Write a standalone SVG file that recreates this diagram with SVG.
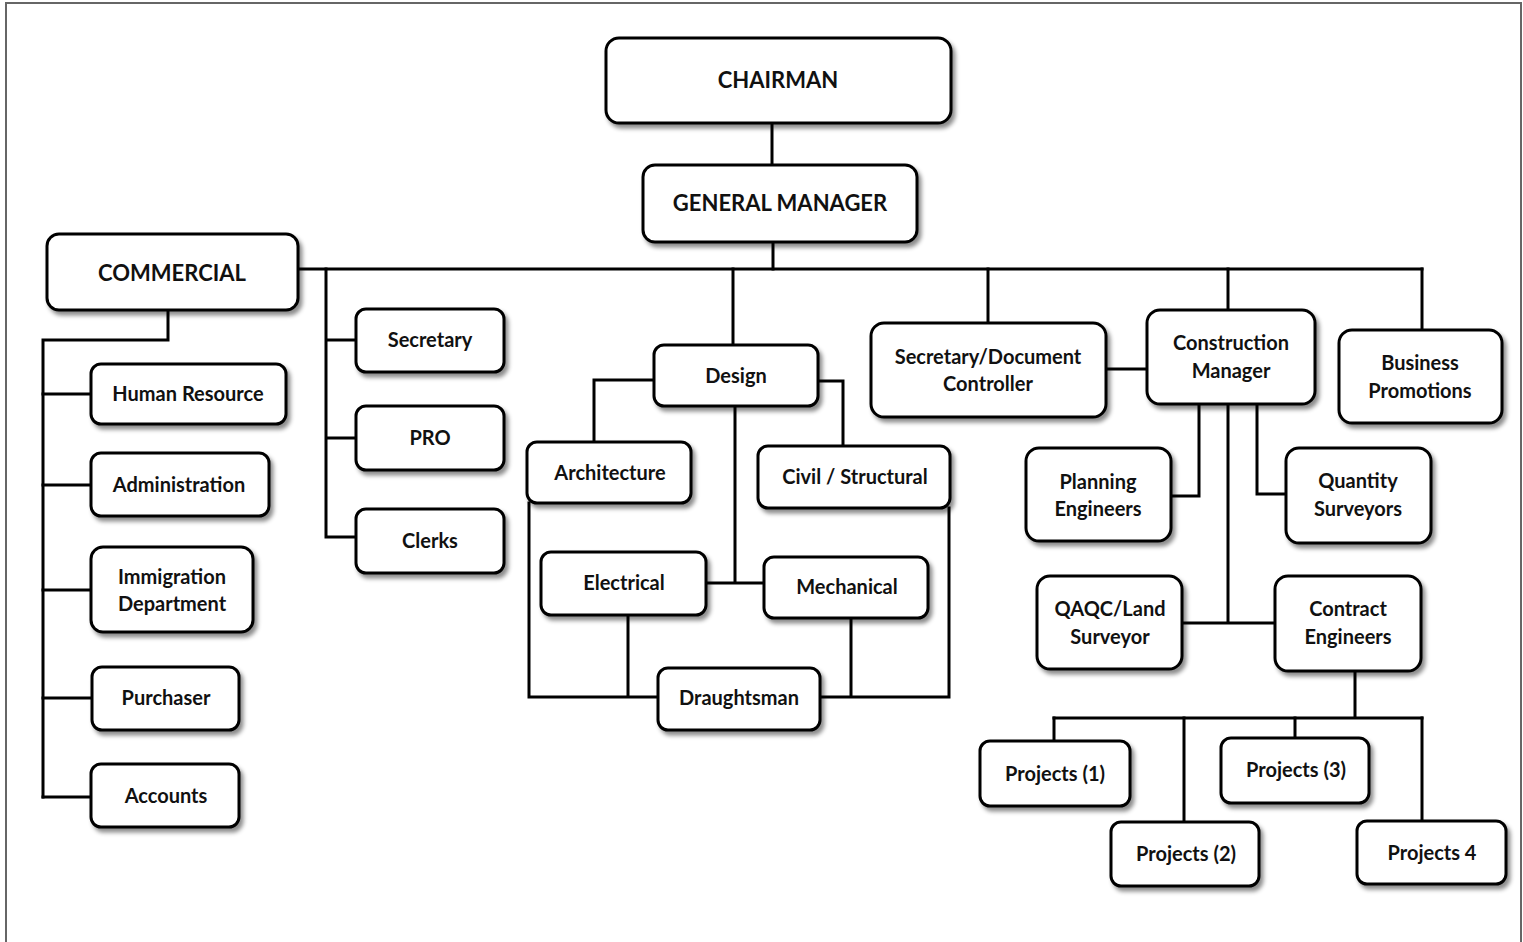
<svg xmlns="http://www.w3.org/2000/svg" width="1523" height="942" viewBox="0 0 1523 942">
<style>
.box{fill:#fff;stroke:#000;stroke-width:3;filter:url(#sh)}
.t{font-family:Lato,"Liberation Sans",sans-serif;font-weight:700;font-size:20px;fill:#111;text-anchor:middle}
.c{font-size:22px}
.ln{fill:none;stroke:#000;stroke-width:3;stroke-linecap:square}
</style>
<defs>
<filter id="sh" x="-10%" y="-10%" width="130%" height="140%">
<feDropShadow dx="3" dy="4" stdDeviation="2" flood-color="#000" flood-opacity="0.45"/>
</filter>
</defs>
<rect x="0" y="0" width="1523" height="942" fill="#fff"/>
<rect x="6" y="3" width="1515" height="950" fill="none" stroke="#666" stroke-width="2"/>
<g id="connectors" class="ln">
<path d="M772 123V165"/>
<path d="M773 242V269"/>
<path d="M298 269H1422"/>
<path d="M326 269V537M326 340H356M326 438H356M326 537H356"/>
<path d="M733 269V345"/>
<path d="M988 269V323"/>
<path d="M1228 269V310"/>
<path d="M1422 269V330"/>
<path d="M168 310V340H43V797"/>
<path d="M43 394H91M43 485H91M43 590H91M43 698H92M43 797H91"/>
<path d="M654 380H594V442"/>
<path d="M818 381H843V446"/>
<path d="M735 406V583M706 583H764"/>
<path d="M529 503V697H658M628 615V697"/>
<path d="M820 697H949V508M851 618V697"/>
<path d="M1106 369H1147"/>
<path d="M1199 404V496H1171"/>
<path d="M1257 404V494H1286"/>
<path d="M1228 404V623M1182 623H1275"/>
<path d="M1355 671V718M1054 718H1422"/>
<path d="M1054 718V741M1184 718V822M1295 718V738M1422 718V821"/>
</g>
<g id="chairman"><rect class="box" x="606" y="38" width="345" height="85" rx="13"/><text class="t c" x="778" y="88">CHAIRMAN</text></g>
<g id="gm"><rect class="box" x="643" y="165" width="274" height="77" rx="12"/><text class="t c" x="780" y="211">GENERAL MANAGER</text></g>
<g id="commercial"><rect class="box" x="47" y="234" width="251" height="76" rx="12"/><text class="t c" x="172" y="281">COMMERCIAL</text></g>
<g id="hr"><rect class="box" x="91" y="364" width="195" height="60" rx="10"/><text class="t" x="188" y="401">Human Resource</text></g>
<g id="admin"><rect class="box" x="91" y="453" width="178" height="63" rx="10"/><text class="t" x="179" y="492">Administration</text></g>
<g id="immig"><rect class="box" x="91" y="547" width="162" height="85" rx="12"/><text class="t" x="172" y="584">Immigration</text><text class="t" x="172" y="611">Department</text></g>
<g id="purchaser"><rect class="box" x="92" y="667" width="147" height="63" rx="10"/><text class="t" x="166" y="705">Purchaser</text></g>
<g id="accounts"><rect class="box" x="91" y="764" width="148" height="63" rx="10"/><text class="t" x="166" y="803">Accounts</text></g>
<g id="secretary"><rect class="box" x="356" y="309" width="148" height="63" rx="10"/><text class="t" x="430" y="347">Secretary</text></g>
<g id="pro"><rect class="box" x="356" y="406" width="148" height="64" rx="10"/><text class="t" x="430" y="445">PRO</text></g>
<g id="clerks"><rect class="box" x="356" y="509" width="148" height="64" rx="10"/><text class="t" x="430" y="548">Clerks</text></g>
<g id="design"><rect class="box" x="654" y="345" width="164" height="61" rx="10"/><text class="t" x="736" y="383">Design</text></g>
<g id="architecture"><rect class="box" x="527" y="442" width="164" height="61" rx="10"/><text class="t" x="610" y="480">Architecture</text></g>
<g id="civil"><rect class="box" x="758" y="446" width="192" height="62" rx="10"/><text class="t" x="855" y="484">Civil / Structural</text></g>
<g id="electrical"><rect class="box" x="541" y="552" width="165" height="63" rx="10"/><text class="t" x="624" y="590">Electrical</text></g>
<g id="mechanical"><rect class="box" x="764" y="557" width="164" height="61" rx="10"/><text class="t" x="847" y="594">Mechanical</text></g>
<g id="draughtsman"><rect class="box" x="658" y="668" width="162" height="62" rx="10"/><text class="t" x="739" y="705">Draughtsman</text></g>
<g id="secdoc"><rect class="box" x="871" y="323" width="235" height="94" rx="13"/><text class="t" x="988" y="364">Secretary/Document</text><text class="t" x="988" y="391">Controller</text></g>
<g id="cm"><rect class="box" x="1147" y="310" width="168" height="94" rx="13"/><text class="t" x="1231" y="350">Construction</text><text class="t" x="1231" y="378">Manager</text></g>
<g id="bp"><rect class="box" x="1339" y="330" width="163" height="93" rx="13"/><text class="t" x="1420" y="370">Business</text><text class="t" x="1420" y="398">Promotions</text></g>
<g id="planning"><rect class="box" x="1026" y="448" width="145" height="93" rx="13"/><text class="t" x="1098" y="489">Planning</text><text class="t" x="1098" y="516">Engineers</text></g>
<g id="qs"><rect class="box" x="1286" y="448" width="145" height="95" rx="13"/><text class="t" x="1358" y="488">Quantity</text><text class="t" x="1358" y="516">Surveyors</text></g>
<g id="qaqc"><rect class="box" x="1037" y="576" width="145" height="93" rx="13"/><text class="t" x="1110" y="616">QAQC/Land</text><text class="t" x="1110" y="644">Surveyor</text></g>
<g id="contract"><rect class="box" x="1275" y="576" width="146" height="95" rx="13"/><text class="t" x="1348" y="616">Contract</text><text class="t" x="1348" y="644">Engineers</text></g>
<g id="p1"><rect class="box" x="980" y="741" width="150" height="65" rx="10"/><text class="t" x="1055" y="781">Projects (1)</text></g>
<g id="p2"><rect class="box" x="1111" y="822" width="148" height="64" rx="10"/><text class="t" x="1186" y="861">Projects (2)</text></g>
<g id="p3"><rect class="box" x="1221" y="738" width="148" height="65" rx="10"/><text class="t" x="1296" y="777">Projects (3)</text></g>
<g id="p4"><rect class="box" x="1357" y="821" width="149" height="63" rx="10"/><text class="t" x="1432" y="860">Projects 4</text></g>
</svg>
